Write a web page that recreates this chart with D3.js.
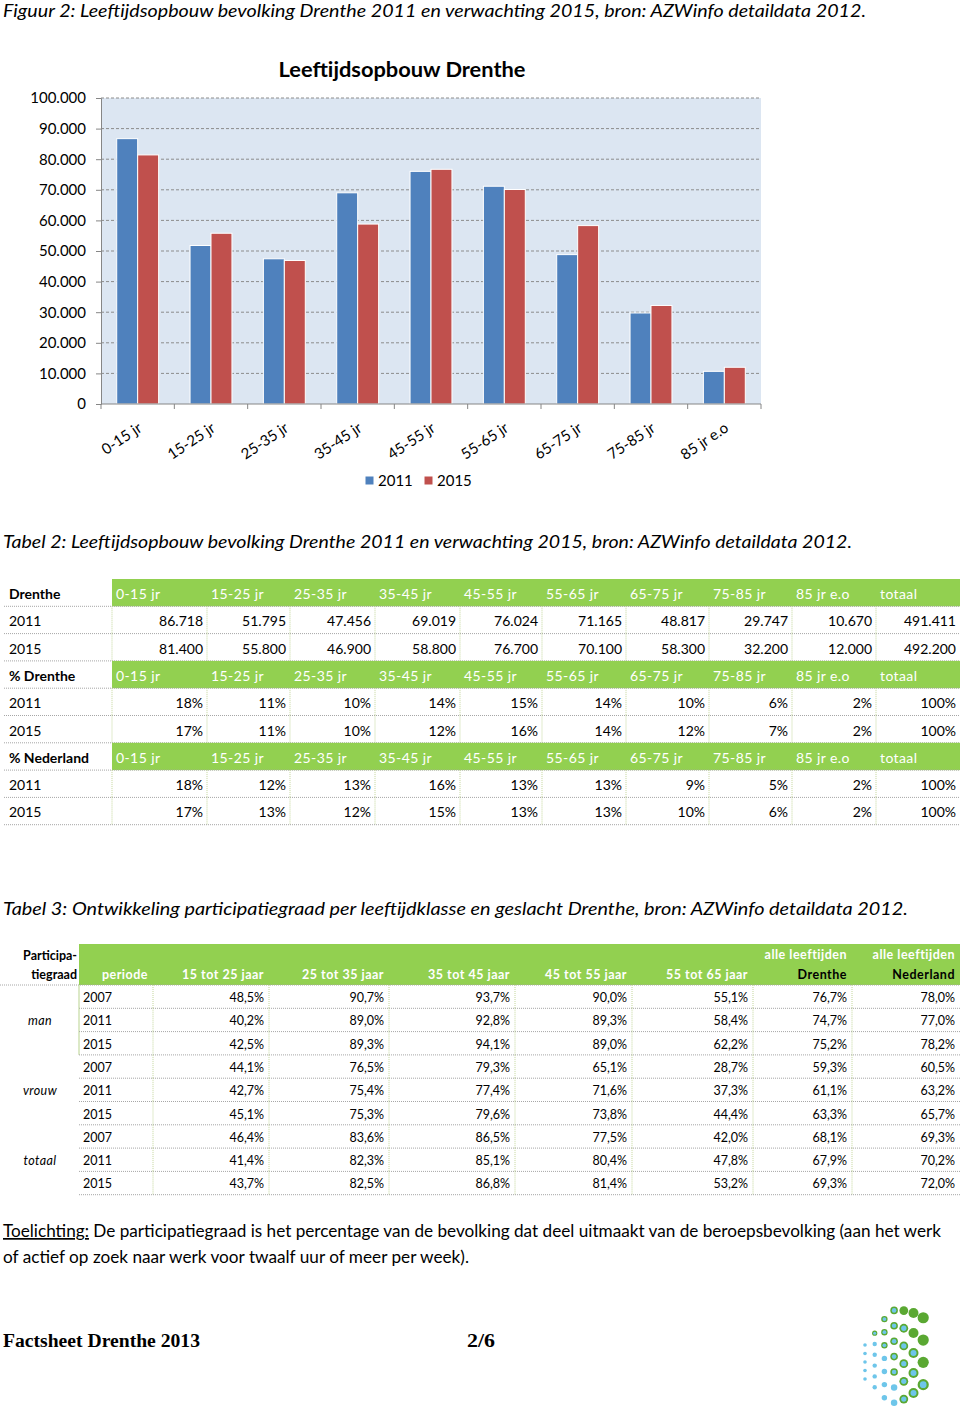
<!DOCTYPE html>
<html>
<head>
<meta charset="utf-8">
<script src="https://cdn.jsdelivr.net/npm/d3@7"></script>
<style>
  body { margin: 0; background: #fff; }
  svg text { font-family: Lato, "Open Sans", sans-serif; fill: #000; }
</style>
</head>
<body>
<svg id="page" width="960" height="1410"></svg>
<script>
const ageGroups = ["0-15 jr", "15-25 jr", "25-35 jr", "35-45 jr", "45-55 jr", "55-65 jr", "65-75 jr", "75-85 jr", "85 jr e.o"];
const series = ["2011", "2015"];
const pop2011 = [86718, 51795, 47456, 69019, 76024, 71165, 48817, 29747, 10670];
const pop2015 = [81400, 55800, 46900, 58800, 76700, 70100, 58300, 32200, 12000];
const popTotal = [491411, 492200];
const pctDrenthe2011 = [18, 11, 10, 14, 15, 14, 10, 6, 2, 100];
const pctDrenthe2015 = [17, 11, 10, 12, 16, 14, 12, 7, 2, 100];
const pctNL2011 = [18, 12, 13, 16, 13, 13, 9, 5, 2, 100];
const pctNL2015 = [17, 13, 12, 15, 13, 13, 10, 6, 2, 100];
const yTicks = [0, 10000, 20000, 30000, 40000, 50000, 60000, 70000, 80000, 90000, 100000];

const partColumns = ["15 tot 25 jaar", "25 tot 35 jaar", "35 tot 45 jaar", "45 tot 55 jaar", "55 tot 65 jaar"];
const partGroups = ["man", "vrouw", "totaal"];
const partPeriods = ["2007", "2011", "2015"];
const partMan = [[48.5, 90.7, 93.7, 90.0, 55.1, 76.7, 78.0], [40.2, 89.0, 92.8, 89.3, 58.4, 74.7, 77.0], [42.5, 89.3, 94.1, 89.0, 62.2, 75.2, 78.2]];
const partVrouw = [[44.1, 76.5, 79.3, 65.1, 28.7, 59.3, 60.5], [42.7, 75.4, 77.4, 71.6, 37.3, 61.1, 63.2], [45.1, 75.3, 79.6, 73.8, 44.4, 63.3, 65.7]];
const partTotaal = [[46.4, 83.6, 86.5, 77.5, 42.0, 68.1, 69.3], [41.4, 82.3, 85.1, 80.4, 47.8, 67.9, 70.2], [43.7, 82.5, 86.8, 81.4, 53.2, 69.3, 72.0]];

// dutch number format
const nl = d3.formatLocale({decimal: ",", thousands: ".", grouping: [3], currency: ["€", ""]});
const fmtInt = nl.format(",d");
const fmtPct = v => v + "%";
const fmtPct1 = v => nl.format(".1f")(v) + "%";

const GREEN = "#92d050";
const svg = d3.select("#page");

// caption helper, squeezes the line into the width it has in the pdf
function line(x, yy, txt, width, size, style) {
  const t = svg.append("text").attr("x", x).attr("y", yy)
    .style("font-size", size + "px").text(txt);
  if (style) t.style("font-style", style);
  if (width) t.attr("textLength", width).attr("lengthAdjust", "spacingAndGlyphs");
  return t;
}

line(3, 17, "Figuur 2: Leeftijdsopbouw bevolking Drenthe 2011 en verwachting 2015, bron: AZWinfo detaildata 2012.", 863, 18, "italic");

// ---- bar chart ----
const plot = {left: 101, right: 761, top: 98, bottom: 404};
const x = d3.scaleBand().domain(ageGroups).range([plot.left, plot.right]);
const xs = d3.scaleBand().domain(series).range([0, x.bandwidth()]).paddingOuter(0.75);
const y = d3.scaleLinear().domain([0, 100000]).range([plot.bottom, plot.top]);
const color = d3.scaleOrdinal().domain(series).range(["#4f81bd", "#c0504d"]);

svg.append("text").attr("x", 402).attr("y", 77).attr("text-anchor", "middle")
  .attr("textLength", 247).attr("lengthAdjust", "spacingAndGlyphs")
  .style("font-size", "21px").style("font-weight", "bold").text("Leeftijdsopbouw Drenthe");

const chart = svg.append("g");
chart.append("rect")
  .attr("x", plot.left).attr("y", plot.top)
  .attr("width", plot.right - plot.left).attr("height", plot.bottom - plot.top)
  .attr("fill", "#dce6f2");

// dashed gridlines
chart.append("g").selectAll("line")
  .data(yTicks.filter(d => d > 0))
  .join("line")
    .attr("x1", plot.left).attr("x2", plot.right)
    .attr("y1", d => y(d)).attr("y2", d => y(d))
    .attr("stroke", "#8c8c8c").attr("stroke-dasharray", "3,2");

const rows = ageGroups.map((g, i) => ({group: g, values: [pop2011[i], pop2015[i]]}));
chart.append("g").selectAll("g")
  .data(rows)
  .join("g")
    .attr("transform", d => `translate(${x(d.group)},0)`)
  .selectAll("rect")
  .data(d => series.map((s, j) => ({s, v: d.values[j]})))
  .join("rect")
    .attr("x", d => xs(d.s))
    .attr("width", xs.bandwidth())
    .attr("y", d => y(d.v))
    .attr("height", d => y(0) - y(d.v))
    .attr("fill", d => color(d.s))
    .attr("stroke", "#fff").attr("stroke-width", 1);

// y axis
const yAxis = chart.append("g")
  .attr("transform", `translate(${plot.left},0)`)
  .call(d3.axisLeft(y).tickValues(yTicks).tickSize(5).tickPadding(10).tickFormat(fmtInt));
yAxis.select(".domain").attr("stroke", "#868686");
yAxis.selectAll(".tick line").attr("stroke", "#868686");
yAxis.selectAll(".tick text").style("font-size", "15px").style("font-family", "Lato, sans-serif");

// x axis: excel puts ticks between the categories
const xAxis = chart.append("g");
xAxis.append("line").attr("x1", plot.left).attr("x2", plot.right)
  .attr("y1", plot.bottom).attr("y2", plot.bottom).attr("stroke", "#868686");
xAxis.selectAll("line.tk")
  .data(d3.range(ageGroups.length + 1))
  .join("line").attr("class", "tk")
    .attr("x1", i => plot.left + i * x.step()).attr("x2", i => plot.left + i * x.step())
    .attr("y1", plot.bottom).attr("y2", plot.bottom + 5)
    .attr("stroke", "#868686");
xAxis.selectAll("text")
  .data(ageGroups)
  .join("text")
    .attr("transform", d => `translate(${x(d) + x.bandwidth() / 2 - 1},${plot.bottom + 17}) rotate(-34)`)
    .attr("text-anchor", "end")
    .attr("dy", "0.75em")
    .style("font-size", "15px")
    .text(d => d);

// legend
const legend = svg.append("g").attr("transform", "translate(365,476)");
series.forEach((s, i) => {
  const g = legend.append("g").attr("transform", `translate(${i * 59},0)`);
  g.append("rect").attr("width", 9).attr("height", 9).attr("fill", color(s)).attr("stroke", "#fff");
  g.append("text").attr("x", 13).attr("y", 10).style("font-size", "15px").text(s);
});

// ---- tabel 2 ----
line(3, 548, "Tabel 2: Leeftijdsopbouw bevolking Drenthe 2011 en verwachting 2015, bron: AZWinfo detaildata 2012.", 849, 18, "italic");

const t2Cols = [112, 207, 290, 375, 460, 542, 626, 709, 792, 876, 960];
const t2Head = ageGroups.concat(["totaal"]);
const t2Rows = [
  {head: true, label: "Drenthe"},
  {label: "2011", values: pop2011.concat([popTotal[0]]), fmt: fmtInt},
  {label: "2015", values: pop2015.concat([popTotal[1]]), fmt: fmtInt},
  {head: true, label: "% Drenthe"},
  {label: "2011", values: pctDrenthe2011, fmt: fmtPct},
  {label: "2015", values: pctDrenthe2015, fmt: fmtPct},
  {head: true, label: "% Nederland"},
  {label: "2011", values: pctNL2011, fmt: fmtPct},
  {label: "2015", values: pctNL2015, fmt: fmtPct}
];
const t2 = svg.append("g").style("font-size", "14px");
const t2Top = 579, t2RowH = 27.3;
t2Rows.forEach((r, i) => {
  const top = t2Top + i * t2RowH;
  const g = t2.append("g").attr("transform", `translate(0,${top})`);
  if (r.head) {
    g.append("rect").attr("x", t2Cols[0]).attr("width", 960 - t2Cols[0]).attr("height", t2RowH).attr("fill", GREEN);
    g.selectAll("text.h").data(t2Head).join("text").attr("class", "h")
      .attr("x", (d, j) => t2Cols[j] + 4).attr("y", 20)
      .style("fill", "#fff").style("letter-spacing", "0.4px").text(d => d);
  } else {
    g.selectAll("line.v").data(t2Cols.slice(0, -1)).join("line").attr("class", "v")
      .attr("x1", d => d).attr("x2", d => d).attr("y1", 0).attr("y2", t2RowH)
      .attr("stroke", "#c3d69b").attr("stroke-dasharray", "1,1");
    g.selectAll("text.v").data(r.values).join("text").attr("class", "v")
      .attr("x", (d, j) => t2Cols[j + 1] - 4).attr("y", 20).attr("text-anchor", "end")
      .text(d => r.fmt(d));
  }
  g.append("text").attr("x", 9).attr("y", 20)
    .style("font-weight", r.head ? "bold" : "normal").text(r.label);
  g.append("line").attr("x1", 4).attr("x2", 960).attr("y1", t2RowH).attr("y2", t2RowH)
    .attr("stroke", "#a6a6a6").attr("stroke-dasharray", "1,1");
});

// ---- tabel 3 ----
line(3, 915, "Tabel 3: Ontwikkeling participatiegraad per leeftijdklasse en geslacht Drenthe, bron: AZWinfo detaildata 2012.", 905, 18, "italic");

const t3Cols = [79, 153, 269, 389, 515, 632, 753, 852, 960];
const t3 = svg.append("g").style("font-size", "12.5px");
const t3Top = 944, t3HeadH = 41, t3RowH = 23.3;
t3.append("rect").attr("x", t3Cols[0]).attr("y", t3Top).attr("width", 960 - t3Cols[0]).attr("height", t3HeadH).attr("fill", GREEN);
t3.append("text").attr("x", 77).attr("y", 960).attr("text-anchor", "end").style("font-weight", "bold").text("Participa-");
t3.append("text").attr("x", 77).attr("y", 979).attr("text-anchor", "end").style("font-weight", "bold").text("tiegraad");
const t3Head = ["periode"].concat(partColumns);
t3.selectAll("text.h").data(t3Head).join("text").attr("class", "h")
  .attr("x", (d, j) => t3Cols[j + 1] - 5).attr("y", 979).attr("text-anchor", "end")
  .style("fill", "#fff").style("font-weight", "bold").style("letter-spacing", "0.5px").text(d => d);
[["alle leeftijden", "Drenthe"], ["alle leeftijden", "Nederland"]].forEach((h, j) => {
  const xr = t3Cols[7 + j] - 5;
  t3.append("text").attr("x", xr).attr("y", 959).attr("text-anchor", "end")
    .style("fill", "#fff").style("font-weight", "bold").style("letter-spacing", "0.5px").text(h[0]);
  t3.append("text").attr("x", xr).attr("y", 979).attr("text-anchor", "end")
    .style("font-weight", "bold").style("letter-spacing", "0.5px").text(h[1]);
});
t3.append("line").attr("x1", 0).attr("x2", 960).attr("y1", t3Top + t3HeadH).attr("y2", t3Top + t3HeadH)
  .attr("stroke", "#a6a6a6").attr("stroke-dasharray", "1,1");

const partData = [partMan, partVrouw, partTotaal];
partGroups.forEach((grp, gi) => {
  partPeriods.forEach((p, pi) => {
    const k = gi * 3 + pi;
    const top = t3Top + t3HeadH + k * t3RowH;
    const g = t3.append("g").attr("transform", `translate(0,${top})`);
    const seps = gi === 0 ? t3Cols.slice(0, -1) : t3Cols.slice(1, -1);
    g.selectAll("line.v").data(seps).join("line").attr("class", "v")
      .attr("x1", d => d).attr("x2", d => d).attr("y1", 0).attr("y2", t3RowH)
      .attr("stroke", d => d === 79 ? "#b9d38f" : "#c3d69b").attr("stroke-dasharray", d => d === 79 ? null : "1,1");
    g.append("text").attr("x", 83).attr("y", 17).text(p);
    g.selectAll("text.v").data(partData[gi][pi]).join("text").attr("class", "v")
      .attr("x", (d, j) => t3Cols[j + 2] - 5).attr("y", 17).attr("text-anchor", "end")
      .text(d => fmtPct1(d));
    g.append("line").attr("x1", 79).attr("x2", 960).attr("y1", t3RowH).attr("y2", t3RowH)
      .attr("stroke", "#a6a6a6").attr("stroke-dasharray", "1,1");
    if (pi === 1) {
      g.append("text").attr("x", 40).attr("y", 17).attr("text-anchor", "middle")
        .style("font-style", "italic").style("letter-spacing", "0.4px").text(grp);
    }
  });
});

// ---- toelichting ----
const note = svg.append("text").attr("x", 3).attr("y", 1237).style("font-size", "17px")
  .attr("textLength", 938).attr("lengthAdjust", "spacingAndGlyphs");
note.append("tspan").style("text-decoration", "underline").text("Toelichting:");
note.append("tspan").text(" De participatiegraad is het percentage van de bevolking dat deel uitmaakt van de beroepsbevolking (aan het werk");
line(3, 1263, "of actief op zoek naar werk voor twaalf uur of meer per week).", 466, 17);

// ---- footer ----
svg.append("text").attr("x", 3).attr("y", 1347)
  .attr("textLength", 197).attr("lengthAdjust", "spacingAndGlyphs")
  .style("font-family", "'Liberation Serif', serif").style("font-weight", "bold").style("font-size", "18px")
  .text("Factsheet Drenthe 2013");
svg.append("text").attr("x", 467).attr("y", 1347)
  .attr("textLength", 28).attr("lengthAdjust", "spacingAndGlyphs")
  .style("font-family", "'Liberation Serif', serif").style("font-weight", "bold").style("font-size", "18px")
  .text("2/6");

// logo: dotted lattice, blue (lower left) fading into green (upper right)
const logo = svg.append("g");
const colCounts = [5, 6, 7, 7, 6, 5, 4];
colCounts.forEach((n, k) => {
  const cx = 865 + k * 9.7;
  const step = 8.5 + k * 2.3;
  const mid = 1362 - k * 1.8;
  for (let r = 0; r < n; r++) {
    const cy = mid + (r - (n - 1) / 2) * step;
    const rowFrac = n > 1 ? r / (n - 1) : 0.5;
    const t = k / 6 + (0.5 - rowFrac) * 0.55;
    const rad = 2 + k * 0.6;
    if (t > 0.38) logo.append("circle").attr("cx", cx).attr("cy", cy).attr("r", rad).attr("fill", "#5aa832");
    if (t < 0.85) logo.append("circle").attr("cx", cx).attr("cy", cy)
      .attr("r", t > 0.38 ? rad * 0.6 : Math.max(1.8, rad * 0.85)).attr("fill", "#6ec6ea");
  }
});
</script>
</body>
</html>
